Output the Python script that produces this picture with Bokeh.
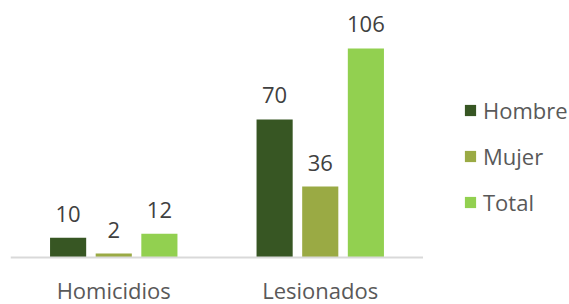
from bokeh.plotting import figure
from bokeh.layouts import row
from bokeh.models import ColumnDataSource, FactorRange, Range1d, LabelSet, Legend, LegendItem, Span
from bokeh.core.properties import value
from bokeh.transform import dodge
from bokeh.embed import file_html
from bokeh.resources import INLINE

categories = ["Homicidios", "Lesionados"]
series = ["Hombre", "Mujer", "Total"]
hombre = [10, 70]
mujer = [2, 36]
total = [12, 106]
colors = ["#375623", "#9AAA44", "#92D050"]

FONT = "Open Sans"
FS = "22px"

src = ColumnDataSource(dict(cat=categories, zero=[0, 0], Hombre=hombre, Mujer=mujer, Total=total,
                            lHombre=[str(v) for v in hombre],
                            lMujer=[str(v) for v in mujer],
                            lTotal=[str(v) for v in total]))

p = figure(x_range=FactorRange(*categories), y_range=Range1d(-23.84, 130.34),
           width=423, height=304, output_backend="svg", toolbar_location=None,
           min_border_left=10, min_border_right=0, min_border_top=0, min_border_bottom=0)

p.outline_line_color = None
p.grid.grid_line_color = None
p.xaxis.visible = False
p.yaxis.visible = False
p.x_range.range_padding = 0
p.background_fill_color = None
p.border_fill_color = None

p.add_layout(Span(location=0, dimension="width", line_color="#d9d9d9", line_width=2))

offsets = [-0.221, 0.0, 0.221]
for s, c, off in zip(series, colors, offsets):
    p.vbar(x=dodge("cat", off, range=p.x_range), top=s, width=0.175, source=src,
           fill_color=c, line_color=None)
    lab = LabelSet(x=dodge("cat", off, range=p.x_range), y=s, text="l" + s, source=src,
                   text_align="center", text_baseline="alphabetic", y_offset=16,
                   text_font=value(FONT), text_font_size=value(FS), text_color="#404040")
    p.add_layout(lab)

cat_labels = LabelSet(x="cat", y="zero", text="cat", source=src, text_align="center",
                      text_baseline="alphabetic", y_offset=-42,
                      text_font=value(FONT), text_font_size=value(FS), text_color="#595959")
p.add_layout(cat_labels)

# legend panel
lf = figure(width=146, height=304, x_range=Range1d(1, 2), y_range=Range1d(1, 2),
            output_backend="svg", toolbar_location=None,
            min_border_left=0, min_border_right=0, min_border_top=0, min_border_bottom=0)
lf.outline_line_color = None
lf.grid.grid_line_color = None
lf.xaxis.visible = False
lf.yaxis.visible = False
lf.background_fill_color = None
lf.border_fill_color = None

swatches = [lf.vbar(x="zero", top="zero", width=0.1, source=src, fill_color=c, line_color=None)
            for c in colors]
legend = Legend(items=[LegendItem(label=s, renderers=[r]) for s, r in zip(series, swatches)],
                location=(40, 87), orientation="vertical",
                glyph_width=14, glyph_height=14, label_standoff=6, spacing=16,
                padding=0, margin=0, border_line_color=None, background_fill_alpha=0,
                label_text_font=FONT, label_text_font_size=FS, label_text_color="#595959")
lf.add_layout(legend, "center")

layout = row(p, lf)
open("out.html", "w").write(file_html(layout, INLINE))
